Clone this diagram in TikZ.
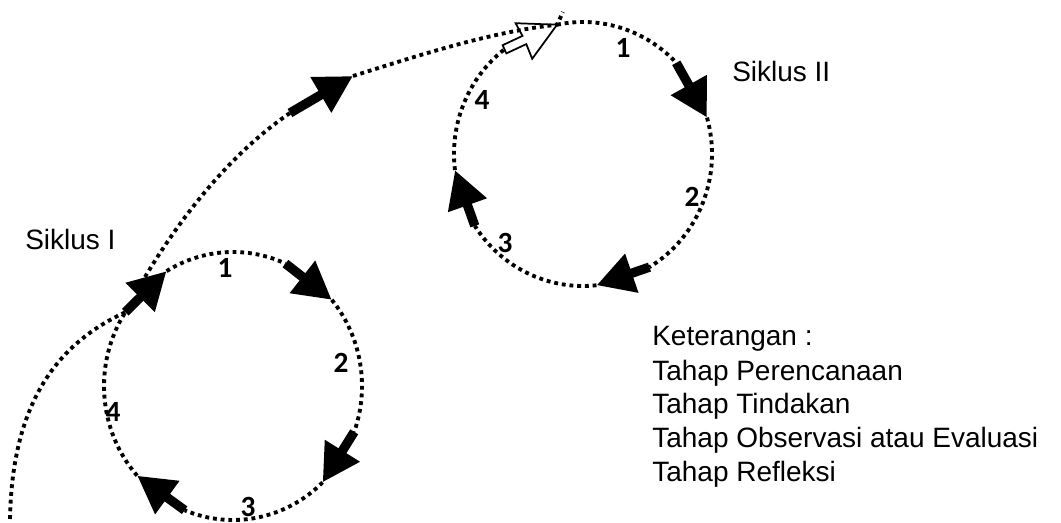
\documentclass[tikz,border=0pt]{standalone}
\usepackage{fontspec}
\setmainfont{Liberation Sans}
\newfontfamily\numfont{Carlito}
\usetikzlibrary{arrows.meta,calc}
\begin{document}
\begin{tikzpicture}[x=0.75pt,y=0.75pt,
  dotline/.style={line width=2.9pt, dash pattern=on 2.9pt off 2.9pt},
  blk/.style={line width=7pt, -{Triangle[length=28pt,width=29pt]}},
  hollow/.style={draw=black, line width=1.3pt, fill=white, line join=miter},
  num/.style={font=\numfont\bfseries\fontsize{22}{26}\selectfont, inner sep=0pt},
  lbl/.style={font=\fontsize{21}{25}\selectfont, anchor=base west, inner sep=0pt}]
\useasboundingbox (0,0) rectangle (1061,522);
% centres
\coordinate (C1) at (233,136);
\coordinate (C2) at (583,368);
% circle 1 points
\coordinate (Aa) at ($(C1)+(121:129 and 134)$);
\coordinate (Ab) at ($(C1)+(66:129 and 134)$);
\coordinate (Ac) at ($(C1)+(40:129 and 134)$);
\coordinate (Ad) at ($(C1)+(-20:129 and 134)$);
\coordinate (Ae) at ($(C1)+(-46:129 and 134)$);
\coordinate (Af) at ($(C1)+(-112:129 and 134)$);
\coordinate (Ag) at ($(C1)+(-138:129 and 134)$);
\coordinate (Ah) at ($(C1)+(146.6:129 and 134)$);
% circle 2 points
\coordinate (Ba) at ($(C2)+(101.6:129 and 132)$);
\coordinate (Bb) at ($(C2)+(43.7:129 and 132)$);
\coordinate (Bc) at ($(C2)+(16:129 and 132)$);
\coordinate (Bd) at ($(C2)+(-59:129 and 132)$);
\coordinate (Be) at ($(C2)+(-84:129 and 132)$);
\coordinate (Bf) at ($(C2)+(-147:129 and 132)$);
\coordinate (Bg) at ($(C2)+(-173:129 and 132)$);
\coordinate (Bh) at ($(C2)+(127.5:129 and 132)$);
% other path points
\coordinate (start) at (10,3);
\coordinate (exit) at (145,245);
\coordinate (upT) at (290,409);
\coordinate (upH) at (353,446);
\coordinate (topEnd) at (563,510);

% circle 1 dotted arcs
\draw[dotline] (Aa) arc[start angle=121, end angle=66, x radius=129, y radius=134];
\draw[dotline] (Ac) arc[start angle=40, end angle=-20, x radius=129, y radius=134];
\draw[dotline] (Ae) arc[start angle=-46, end angle=-112, x radius=129, y radius=134];
\draw[dotline] (Ag) arc[start angle=-138, end angle=-213.4, x radius=129, y radius=134];
% circle 1 arrows
\draw[blk] (Ab) -- (Ac);
\draw[blk] (Ad) -- (Ae);
\draw[blk] (Af) -- (Ag);
\draw[blk] (Ah) -- (Aa);

% entry curve
\draw[dotline] (start) .. controls (12,110) and (50,175) .. (Ah);
% curve from cycle I to cycle II
\draw[dotline] (exit) .. controls (190,320) and (240,375) .. (upT);
\draw[blk] (upT) -- (upH);

% circle 2 dotted arcs
\draw[dotline] (Ba) arc[start angle=101.6, end angle=43.7, x radius=129, y radius=132];
\draw[dotline] (Bc) arc[start angle=16, end angle=-59, x radius=129, y radius=132];
\draw[dotline] (Be) arc[start angle=-84, end angle=-147, x radius=129, y radius=132];
\draw[dotline] (Bg) arc[start angle=-173, end angle=-232.5, x radius=129, y radius=132];
% circle 2 arrows
\draw[blk] (Bb) -- (Bc);
\draw[blk] (Bd) -- (Be);
\draw[blk] (Bf) -- (Bg);
% hollow arrow
\draw[hollow] (502.6,476.8) -- (522.5,486.1) -- (515.6,498.8) -- (Ba)
  -- (532.2,463.2) -- (526.3,477.9) -- (506.4,468.6) -- cycle;
\draw[dotline] (upH) .. controls (420,467) and (490,490) .. (Ba) -- (topEnd);

% numbers
\node[num] (n11) at (225,254) {1};
\node[num] (n12) at (341,159) {2};
\node[num] (n13) at (248,15) {3};
\node[num] (n14) at (113,110) {4};
\node[num] (n21) at (623,474) {1};
\node[num] (n22) at (692,325) {2};
\node[num] (n23) at (505,279) {3};
\node[num] (n24) at (482,422) {4};

% labels
\node[lbl] (s1) at (25,272) {Siklus I};
\node[lbl] (s2) at (732,440) {Siklus II};
\node[lbl] (k0) at (652,176) {Keterangan :};
\node[lbl] (k1) at (652,142) {Tahap Perencanaan};
\node[lbl] (k2) at (652,109) {Tahap Tindakan};
\node[lbl] (k3) at (652,75) {Tahap Observasi atau Evaluasi};
\node[lbl] (k4) at (652,41) {Tahap Refleksi};
\end{tikzpicture}
\end{document}
